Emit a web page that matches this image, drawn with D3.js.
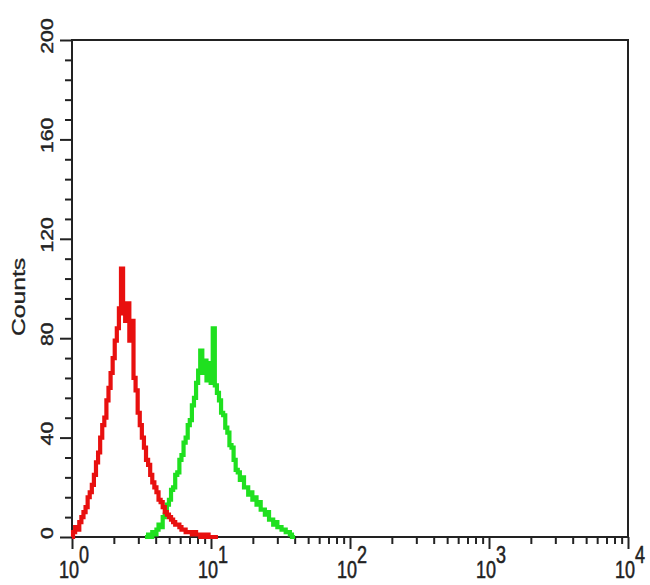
<!DOCTYPE html>
<html><head><meta charset="utf-8">
<script src="https://cdn.jsdelivr.net/npm/d3@7"></script>
<style>html,body{margin:0;padding:0;background:#fff;}svg{display:block;}</style>
</head><body>
<svg id="chart" width="650" height="585"></svg>
<script>
// Fluorescence intensity channels (log-spaced)
const intensity = [1.000,1.035,1.072,1.109,1.148,1.189,1.230,1.274,1.318,1.365,
1.413,1.462,1.514,1.567,1.622,1.679,1.738,1.799,1.862,1.928,
1.995,2.065,2.138,2.213,2.291,2.371,2.455,2.541,2.630,2.723,
2.818,2.917,3.020,3.126,3.236,3.350,3.467,3.589,3.715,3.846,
3.981,4.121,4.266,4.416,4.571,4.732,4.898,5.070,5.248,5.433,
5.623,5.821,6.026,6.237,6.457,6.683,6.918,7.161,7.413,7.674,
7.943,8.222,8.511,8.810,9.120,9.441,9.772,10.12,10.47,10.84,
11.22,11.61,12.02,12.45,12.88,13.34,13.80,14.29,14.79,15.31,
15.85,16.41,16.98,17.58,18.20,18.84,19.50,20.19,20.89,21.63,
22.39,23.17,23.99,24.83,25.70,26.61,27.54,28.51,29.51,30.55,
31.62,32.73,33.88,35.07,36.31,37.58,38.90,40.27];
// Red (control) counts for intensity[0..70]
const redCounts = [0,2,4,3,6,8,10,12,16,18,
21,25,30,34,40,45,48,55,60,66,
72,79,84,92,108,90,87,94,79,87,
64,59,50,45,40,36,31,29,25,22,
20,18,15,14,12,10,9,8,7,6,
5,5,4,3,3,2,2,2,1,2,
1,1,0,1,0,1,0,0,0,0,0];
// Green (stained) counts for intensity[35..107]
const greenStart = 35;
const greenCounts = [0,0,1,0,2,1,3,5,4,8,
9,13,15,19,20,25,26,31,33,38,
40,45,47,53,56,62,67,75,66,71,
63,70,62,84,61,58,55,50,49,44,
42,37,36,31,27,26,23,24,20,20,
17,18,15,16,13,14,11,11,9,10,
7,7,5,6,4,4,3,3,2,2,1,0,0];
const xMajorTicks = [1,10,100,1000,10000];
const xTickExponents = ["0","1","2","3","4"];
const yMajorTicks = [0,40,80,120,160,200];
const yLabel = "Counts";

const svg = d3.select("#chart");
const L = 72, R = 628, T = 40, B = 537;
const x = d3.scaleLog().domain([1,10000]).range([L,R]);
const y = d3.scaleLinear().domain([0,200]).range([B,T]);
const ink = "#222";

// minor ticks
const xMinor = [];
for (let d = 1; d < 10000; d *= 10) for (let m = 2; m <= 9; m++) xMinor.push(d*m);
const yMinor = d3.range(0, 201, 8).filter(v => v % 40 !== 0);

function styleAxis(g){
  g.select(".domain").remove();
  g.selectAll(".tick line").attr("stroke", ink).attr("stroke-width", 2);
  g.selectAll(".tick text").remove();
}
svg.append("g").attr("transform",`translate(0,${B})`)
  .call(d3.axisBottom(x).tickValues(xMinor).tickSize(7).tickFormat("")).call(styleAxis);
svg.append("g").attr("transform",`translate(0,${B})`)
  .call(d3.axisBottom(x).tickValues(xMajorTicks).tickSize(12).tickFormat("")).call(styleAxis);
svg.append("g").attr("transform",`translate(${L},0)`)
  .call(d3.axisLeft(y).tickValues(yMinor).tickSize(7).tickFormat("")).call(styleAxis);
svg.append("g").attr("transform",`translate(${L},0)`)
  .call(d3.axisLeft(y).tickValues(yMajorTicks).tickSize(12).tickFormat("")).call(styleAxis);

// frame
svg.append("rect").attr("x",L).attr("y",T).attr("width",R-L).attr("height",B-T)
  .attr("fill","none").attr("stroke",ink).attr("stroke-width",2);

const font = "'Liberation Sans', Arial, sans-serif";
// x labels 10^n
xMajorTicks.forEach((v,i)=>{
  const t = svg.append("text")
    .attr("transform",`translate(${x(v)+2},578) scale(1,1.35)`)
    .attr("text-anchor","middle").attr("font-family",font).attr("font-size",18)
    .attr("fill",ink).attr("stroke",ink).attr("stroke-width",0.4);
  t.append("tspan").text("10");
  t.append("tspan").attr("dy",-11).text(xTickExponents[i]);
});
// y labels
yMajorTicks.forEach(v=>{
  svg.append("text")
    .attr("transform",`translate(53,${y(v)-4}) scale(1,1.25) rotate(-90)`)
    .attr("text-anchor","middle").attr("font-family",font).attr("font-size",17)
    .attr("fill",ink).attr("stroke",ink).attr("stroke-width",0.4)
    .text(v);
});
svg.append("text")
  .attr("transform",`translate(25,297) scale(1,1.3) rotate(-90)`)
  .attr("text-anchor","middle").attr("font-family",font).attr("font-size",19)
  .attr("fill",ink).attr("stroke",ink).attr("stroke-width",0.3)
  .text(yLabel);

// histograms
const line = d3.line().x(d=>x(d.v)).y(d=>y(d.c)).curve(d3.curveStep);
const redData = redCounts.map((c,i)=>({v:intensity[i], c}));
const greenData = greenCounts.map((c,i)=>({v:intensity[greenStart+i], c}));
svg.append("path").datum(greenData).attr("d",line)
  .attr("fill","none").attr("stroke","#1fe01f").attr("stroke-width",4.2);
svg.append("path").datum(redData).attr("d",line)
  .attr("fill","none").attr("stroke","#e8100f").attr("stroke-width",4.2);
</script>
</body></html>
